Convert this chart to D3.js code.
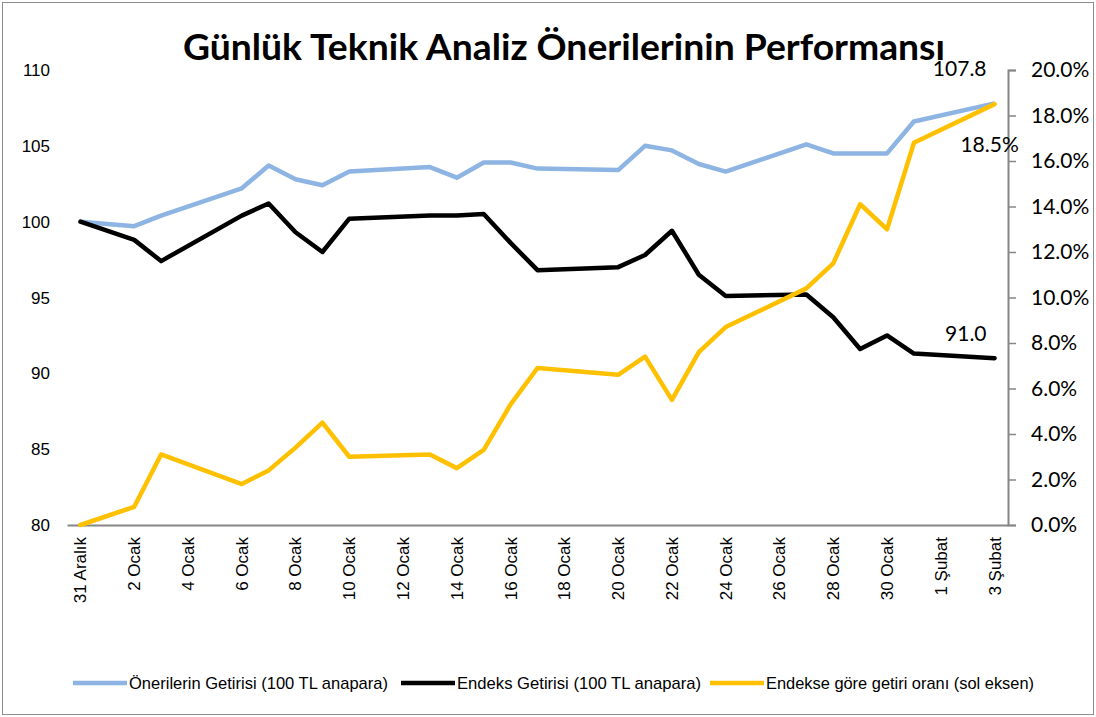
<!DOCTYPE html>
<html>
<head>
<meta charset="utf-8">
<script src="https://cdn.jsdelivr.net/npm/d3@7"></script>
<style>
body{margin:0;background:#fff;}
</style>
</head>
<body>
<script>
var w=1096, h=717;

// x axis categories (every calendar day), labels shown on every other one
var categories = ["31 Aralık","1 Ocak","2 Ocak","3 Ocak","4 Ocak","5 Ocak","6 Ocak","7 Ocak","8 Ocak","9 Ocak",
	"10 Ocak","11 Ocak","12 Ocak","13 Ocak","14 Ocak","15 Ocak","16 Ocak","17 Ocak","18 Ocak","19 Ocak",
	"20 Ocak","21 Ocak","22 Ocak","23 Ocak","24 Ocak","25 Ocak","26 Ocak","27 Ocak","28 Ocak","29 Ocak",
	"30 Ocak","31 Ocak","1 Şubat","2 Şubat","3 Şubat"];

// trading days that carry values
var days = ["31 Aralık","2 Ocak","3 Ocak","6 Ocak","7 Ocak","8 Ocak","9 Ocak","10 Ocak","13 Ocak","14 Ocak",
	"15 Ocak","16 Ocak","17 Ocak","20 Ocak","21 Ocak","22 Ocak","23 Ocak","24 Ocak","27 Ocak","28 Ocak",
	"29 Ocak","30 Ocak","31 Ocak","3 Şubat"];

var oneriler = [100.0,99.7,100.4,102.2,103.7,102.8,102.4,103.3,103.6,102.9,
	103.9,103.9,103.5,103.4,105.0,104.7,103.8,103.3,105.1,104.5,
	104.5,104.5,106.6,107.8];
var endeks = [100.0,98.8,97.4,100.4,101.2,99.3,98.0,100.2,100.4,100.4,
	100.5,98.6,96.8,97.0,97.8,99.4,96.5,95.1,95.2,93.7,
	91.6,92.5,91.3,91.0];
var fark = [0.0,0.8,3.1,1.8,2.4,3.4,4.5,3.0,3.1,2.5,
	3.3,5.3,6.9,6.6,7.4,5.5,7.6,8.7,10.4,11.5,
	14.1,13.0,16.8,18.5];

var leftTicks = [80,85,90,95,100,105,110];
var rightTicks = [0,2,4,6,8,10,12,14,16,18,20];

var seriesNames = ["Önerilerin Getirisi (100 TL anapara)","Endeks Getirisi (100 TL anapara)","Endekse göre getiri oranı (sol eksen)"];
var seriesColors = ["#8DB4E2","#000000","#FFC000"];

var plotL=67, plotR=1008, plotT=70, plotB=525;

var svg = d3.select("body")
	.append("svg")
		.attr("width",w)
		.attr("height",h);

svg.append("rect")
	.attr("x",2.5).attr("y",2.5)
	.attr("width",w-5).attr("height",h-5)
	.attr("fill","#fff").attr("stroke","#8c8c8c").attr("stroke-width",1);

var x = d3.scaleBand().domain(categories).range([plotL,plotR]);
var yL = d3.scaleLinear().domain([80,110]).range([plotB,plotT]);
var yR = d3.scaleLinear().domain([0,20]).range([plotB,plotT]);
function cx(d){ return x(d)+x.bandwidth()/2; }

// title
svg.append("text")
	.attr("x",183).attr("y",60)
	.attr("textLength",762).attr("lengthAdjust","spacingAndGlyphs")
	.style("font-family","Lato, 'Open Sans', sans-serif")
	.style("font-weight","bold")
	.style("font-size","37px")
	.text("Günlük Teknik Analiz Önerilerinin Performansı");

// left axis labels (no line)
svg.selectAll(".ltick")
	.data(leftTicks)
	.enter()
	.append("text")
		.attr("x",50)
		.attr("y",function(d){return yL(d)+6;})
		.attr("text-anchor","end")
		.style("font-family","'Liberation Sans', Arial, sans-serif")
		.style("font-size","17px")
		.text(function(d){return d;});

// right axis
var rAxis = d3.axisRight(yR)
	.tickValues(rightTicks)
	.tickSize(8)
	.tickPadding(15)
	.tickFormat(function(d){return d.toFixed(1)+"%";});
var rg = svg.append("g").attr("transform","translate("+plotR+",0)").call(rAxis);
rg.select(".domain").attr("stroke","#868686").attr("stroke-width",2);
rg.selectAll(".tick line").attr("stroke","#868686").attr("stroke-width",1.5);
rg.selectAll(".tick text")
	.style("font-family","Lato, sans-serif")
	.style("font-size","21px")
	.attr("fill","#000");

// x axis
var xAxis = d3.axisBottom(x)
	.tickSize(0)
	.tickFormat(function(d,i){return i%2==0 ? d : "";});
var xg = svg.append("g").attr("transform","translate(0,"+plotB+")").call(xAxis);
xg.select(".domain").attr("stroke","#868686").attr("stroke-width",2);
xg.selectAll(".tick text")
	.attr("transform","rotate(-90)")
	.attr("text-anchor","end")
	.attr("x",-12)
	.attr("y",0)
	.attr("dy","0.35em")
	.style("font-family","'Liberation Sans', Arial, sans-serif")
	.style("font-size","17px")
	.attr("fill","#000");

// lines
var lineL = d3.line()
	.x(function(d,i){return cx(days[i]);})
	.y(function(d){return yL(d);});
var lineR = d3.line()
	.x(function(d,i){return cx(days[i]);})
	.y(function(d){return yR(d);});

svg.append("path").datum(oneriler)
	.attr("d",lineL).attr("fill","none")
	.attr("stroke",seriesColors[0]).attr("stroke-width",4.5).attr("stroke-linejoin","round");
svg.append("path").datum(endeks)
	.attr("d",lineL).attr("fill","none")
	.attr("stroke",seriesColors[1]).attr("stroke-width",4.5).attr("stroke-linejoin","round").attr("stroke-linecap","round");
svg.append("path").datum(fark)
	.attr("d",lineR).attr("fill","none")
	.attr("stroke",seriesColors[2]).attr("stroke-width",4.5).attr("stroke-linejoin","round").attr("stroke-linecap","round");

// end labels
var lastDay = days[days.length-1];
var lbl = function(txt,xx,yy,anchor){
	svg.append("text").attr("x",xx).attr("y",yy)
		.attr("text-anchor",anchor)
		.style("font-family","Lato, sans-serif")
		.style("font-size","21px")
		.text(txt);
};
lbl(oneriler[oneriler.length-1].toFixed(1), cx(lastDay)-8, yL(oneriler[oneriler.length-1])-27, "end");
lbl(fark[fark.length-1].toFixed(1)+"%", cx(lastDay)-5, yR(fark[fark.length-1])+48, "middle");
lbl(endeks[endeks.length-1].toFixed(1), cx(lastDay)-8, yL(endeks[endeks.length-1])-17, "end");

// legend
var legX = [73,401,710];
var legW = [259,244,268];
var leg = svg.selectAll(".leg")
	.data(seriesNames)
	.enter()
	.append("g")
		.attr("transform",function(d,i){return "translate("+legX[i]+",683)";});
leg.append("line")
	.attr("x1",0).attr("x2",54).attr("y1",0).attr("y2",0)
	.attr("stroke",function(d,i){return seriesColors[i];})
	.attr("stroke-width",4.5);
leg.append("text")
	.attr("x",56).attr("y",6)
	.attr("textLength",function(d,i){return legW[i];})
	.attr("lengthAdjust","spacingAndGlyphs")
	.style("font-family","'Liberation Sans', Arial, sans-serif")
	.style("font-size","17px")
	.text(function(d){return d;});
</script>
</body>
</html>
